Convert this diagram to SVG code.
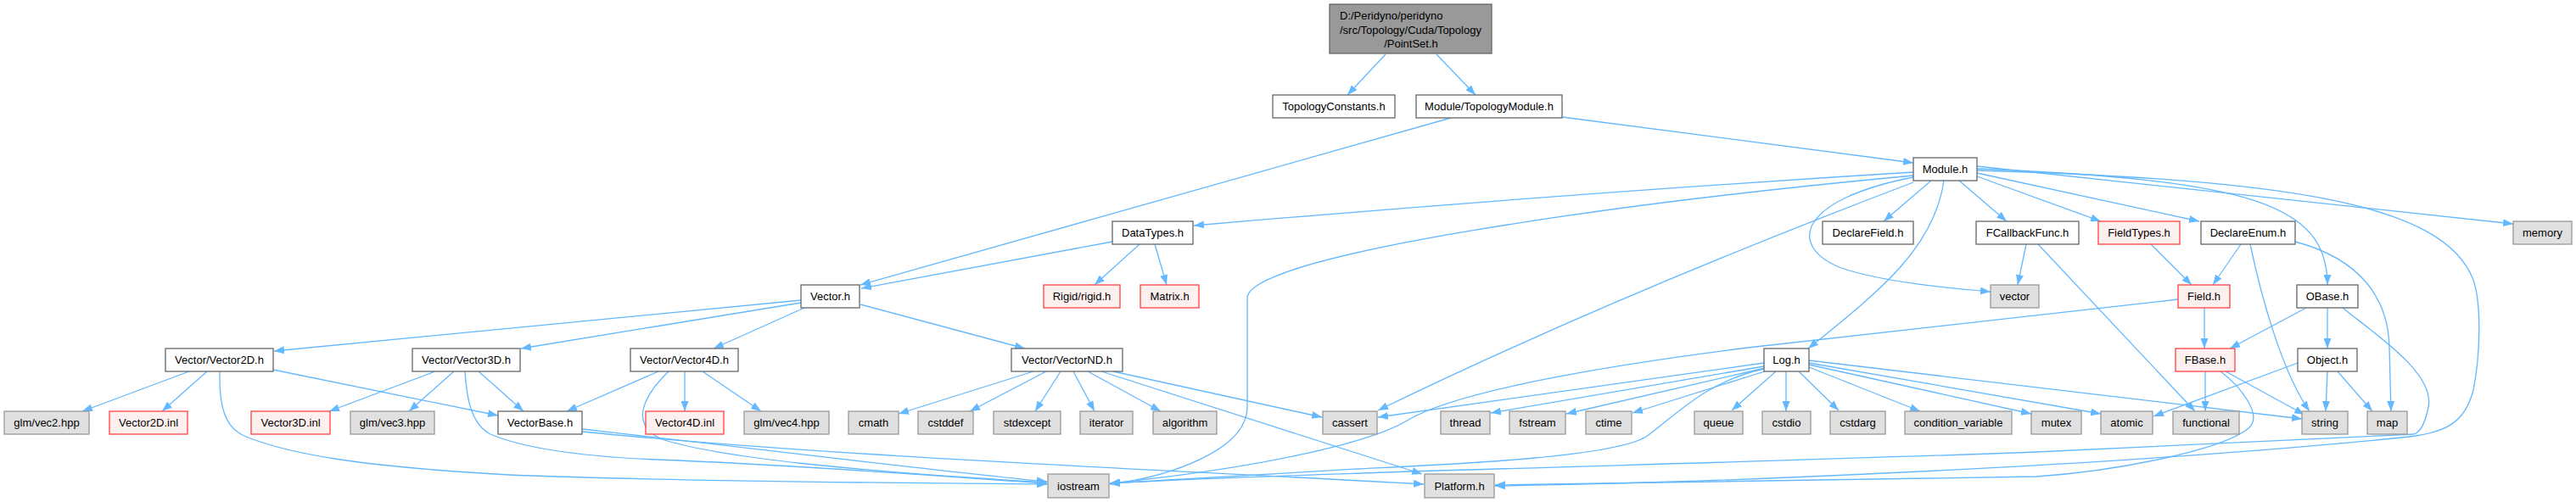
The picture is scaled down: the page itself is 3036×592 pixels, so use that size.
<svg xmlns="http://www.w3.org/2000/svg" width="3036" height="592" viewBox="0 0 3036 592">
<style>
.e{fill:none;stroke:#63B8FF;stroke-width:1.3}
rect{stroke-width:1.3}
.w rect{fill:#ffffff;stroke:#666666}
.g rect{fill:#E0E0E0;stroke:#999999}
.r rect{fill:#FFF0F0;stroke:#FF4040}
.root rect{fill:#999999;stroke:#666666}
text{font-family:"Liberation Sans",Arial,sans-serif;font-size:13px;fill:#000000;text-anchor:middle}
</style>
<defs>
<marker id="a" markerUnits="userSpaceOnUse" markerWidth="12" markerHeight="9" refX="12" refY="4.5" orient="auto">
<path d="M0,0 L12,4.5 L0,9 z" fill="#63B8FF"/>
</marker>
</defs>
<rect width="3036" height="592" fill="#ffffff"/>
<g id="edges" marker-end="url(#a)">
<path class="e" marker-end="url(#a)" d="M1633,64 L1588,112"/>
<path class="e" marker-end="url(#a)" d="M1693,64 L1739,112"/>
<path class="e" marker-end="url(#a)" d="M1710,139 L1014,336"/>
<path class="e" marker-end="url(#a)" d="M1841,138 L2255,192"/>
<path class="e" marker-end="url(#a)" d="M2255,203 Q1850,228 1407,266"/>
<path class="e" marker-end="url(#a)" d="M2255,207 C1900,240 1480,300 1470,350 L1470,480 C1470,530 1380,562 1308,571"/>
<path class="e" marker-end="url(#a)" d="M2255,215 Q1900,350 1624,484"/>
<path class="e" marker-end="url(#a)" d="M2276,213 L2220,261"/>
<path class="e" marker-end="url(#a)" d="M2255,209 C2120,235 2105,290 2170,316 C2220,333 2300,340 2346,344"/>
<path class="e" marker-end="url(#a)" d="M2291,213 C2280,290 2220,340 2131,411"/>
<path class="e" marker-end="url(#a)" d="M2309,213 L2365,261"/>
<path class="e" marker-end="url(#a)" d="M2330,208 L2476,261"/>
<path class="e" marker-end="url(#a)" d="M2330,204 L2592,261"/>
<path class="e" marker-end="url(#a)" d="M2330,199 C2650,212 2743,240 2743,336"/>
<path class="e" marker-end="url(#a)" d="M2330,196 L2962,264"/>
<path class="e" marker-end="url(#a)" d="M2330,201 C2700,212 2880,240 2915,330 C2925,360 2923,420 2915,460 C2905,500 2880,510 2840,515 C2500,550 2000,570 1762,573"/>
<path class="e" marker-end="url(#a)" d="M1311,285 L1015,340"/>
<path class="e" marker-end="url(#a)" d="M1343,288 L1290,336"/>
<path class="e" marker-end="url(#a)" d="M1361,288 L1375,336"/>
<path class="e" marker-end="url(#a)" d="M944,354 L323,414"/>
<path class="e" marker-end="url(#a)" d="M944,357 L614,411"/>
<path class="e" marker-end="url(#a)" d="M948,363 L841,411"/>
<path class="e" marker-end="url(#a)" d="M1014,359 L1208,411"/>
<path class="e" marker-end="url(#a)" d="M223,438 L97,485"/>
<path class="e" marker-end="url(#a)" d="M244,438 L191,485"/>
<path class="e" marker-end="url(#a)" d="M322,436 L587,490"/>
<path class="e" marker-end="url(#a)" d="M259,438 C258,480 265,505 290,515 C340,535 420,550 600,560 C800,568 1100,570 1234,571"/>
<path class="e" marker-end="url(#a)" d="M513,438 L388,485"/>
<path class="e" marker-end="url(#a)" d="M535,438 L482,485"/>
<path class="e" marker-end="url(#a)" d="M564,438 L617,485"/>
<path class="e" marker-end="url(#a)" d="M548,438 C550,470 555,500 578,512 C620,530 700,540 800,543 C1000,552 1150,565 1234,570"/>
<path class="e" marker-end="url(#a)" d="M776,438 L668,485"/>
<path class="e" marker-end="url(#a)" d="M788,438 C760,465 740,500 780,518 C850,540 1000,555 1234,569"/>
<path class="e" marker-end="url(#a)" d="M807,438 L807,485"/>
<path class="e" marker-end="url(#a)" d="M828,438 L897,485"/>
<path class="e" marker-end="url(#a)" d="M686,506 C900,530 1100,555 1234,568"/>
<path class="e" marker-end="url(#a)" d="M686,509 C1000,540 1400,555 1678,571"/>
<path class="e" marker-end="url(#a)" d="M1218,438 L1059,488"/>
<path class="e" marker-end="url(#a)" d="M1233,438 L1143,485"/>
<path class="e" marker-end="url(#a)" d="M1250,438 L1220,485"/>
<path class="e" marker-end="url(#a)" d="M1265,438 L1290,485"/>
<path class="e" marker-end="url(#a)" d="M1282,438 L1368,485"/>
<path class="e" marker-end="url(#a)" d="M1312,438 L1558,492"/>
<path class="e" marker-end="url(#a)" d="M1298,438 L1676,559"/>
<path class="e" marker-end="url(#a)" d="M2079,428 L1624,492"/>
<path class="e" marker-end="url(#a)" d="M2079,432 L1757,487"/>
<path class="e" marker-end="url(#a)" d="M2080,434 L1846,488"/>
<path class="e" marker-end="url(#a)" d="M2083,437 L1924,487"/>
<path class="e" marker-end="url(#a)" d="M2093,438 L2041,484"/>
<path class="e" marker-end="url(#a)" d="M2105,438 L2105,485"/>
<path class="e" marker-end="url(#a)" d="M2120,438 L2167,484"/>
<path class="e" marker-end="url(#a)" d="M2132,433 L2263,485"/>
<path class="e" marker-end="url(#a)" d="M2132,430 L2394,488"/>
<path class="e" marker-end="url(#a)" d="M2132,428 L2476,488"/>
<path class="e" marker-end="url(#a)" d="M2132,425 L2713,494"/>
<path class="e" marker-end="url(#a)" d="M2079,435 C2010,450 1975,490 1940,515 C1900,540 1700,548 1600,553 C1500,558 1400,565 1308,570"/>
<path class="e" marker-end="url(#a)" d="M2567,353 L2060,410 C1900,430 1720,460 1660,495 C1620,520 1500,550 1308,570"/>
<path class="e" marker-end="url(#a)" d="M2761,363 C2800,395 2870,440 2862,480 C2858,500 2852,510 2845,512 L2400,533 C2000,548 1600,555 1308,570"/>
<path class="e" marker-end="url(#a)" d="M2617,438 C2640,455 2668,490 2650,505 C2620,530 2500,555 2400,562 L1762,572"/>
<path class="e" marker-end="url(#a)" d="M2599,438 L2599,485"/>
<path class="e" marker-end="url(#a)" d="M2623,438 L2716,489"/>
<path class="e" marker-end="url(#a)" d="M2718,363 L2628,411"/>
<path class="e" marker-end="url(#a)" d="M2743,363 L2743,411"/>
<path class="e" marker-end="url(#a)" d="M2598,363 L2598,411"/>
<path class="e" marker-end="url(#a)" d="M2708,428 L2538,491"/>
<path class="e" marker-end="url(#a)" d="M2743,438 L2741,485"/>
<path class="e" marker-end="url(#a)" d="M2755,438 L2796,485"/>
<path class="e" marker-end="url(#a)" d="M2388,288 L2378,336"/>
<path class="e" marker-end="url(#a)" d="M2402,288 L2587,485"/>
<path class="e" marker-end="url(#a)" d="M2641,288 L2608,336"/>
<path class="e" marker-end="url(#a)" d="M2535,288 L2583,336"/>
<path class="e" marker-end="url(#a)" d="M2652,288 C2665,350 2690,440 2722,485"/>
<path class="e" marker-end="url(#a)" d="M2705,285 C2780,305 2815,350 2816,410 L2818,485"/>
</g>
<g id="n_pointset" class="root"><rect x="1567" y="5" width="191" height="58"/><text x="1579" y="23" style="text-anchor:start">D:/Peridyno/peridyno</text><text x="1579" y="39.5" style="text-anchor:start">/src/Topology/Cuda/Topology</text><text x="1663" y="56">/PointSet.h</text></g>
<g id="n_topoconst" class="w"><rect x="1500" y="112" width="144" height="27"/><text x="1572" y="130">TopologyConstants.h</text></g>
<g id="n_topomod" class="w"><rect x="1669" y="112" width="172" height="27"/><text x="1755" y="130">Module/TopologyModule.h</text></g>
<g id="n_module" class="w"><rect x="2255" y="186" width="75" height="27"/><text x="2292.5" y="204">Module.h</text></g>
<g id="n_datatypes" class="w"><rect x="1311" y="261" width="95" height="27"/><text x="1358.5" y="279">DataTypes.h</text></g>
<g id="n_declarefield" class="w"><rect x="2148" y="261" width="107" height="27"/><text x="2201.5" y="279">DeclareField.h</text></g>
<g id="n_fcallback" class="w"><rect x="2329" y="261" width="121" height="27"/><text x="2389.5" y="279">FCallbackFunc.h</text></g>
<g id="n_fieldtypes" class="r"><rect x="2473" y="261" width="96" height="27"/><text x="2521" y="279">FieldTypes.h</text></g>
<g id="n_declareenum" class="w"><rect x="2594" y="261" width="111" height="27"/><text x="2649.5" y="279">DeclareEnum.h</text></g>
<g id="n_memory" class="g"><rect x="2962" y="261" width="69" height="27"/><text x="2996.5" y="279">memory</text></g>
<g id="n_vectorh" class="w"><rect x="944" y="336" width="69" height="27"/><text x="978.5" y="354">Vector.h</text></g>
<g id="n_rigid" class="r"><rect x="1230" y="336" width="90" height="27"/><text x="1275" y="354">Rigid/rigid.h</text></g>
<g id="n_matrix" class="r"><rect x="1344" y="336" width="69" height="27"/><text x="1378.5" y="354">Matrix.h</text></g>
<g id="n_vector" class="g"><rect x="2346" y="336" width="57" height="27"/><text x="2374.5" y="354">vector</text></g>
<g id="n_field" class="r"><rect x="2567" y="336" width="61" height="27"/><text x="2597.5" y="354">Field.h</text></g>
<g id="n_obase" class="w"><rect x="2707" y="336" width="72" height="27"/><text x="2743" y="354">OBase.h</text></g>
<g id="n_vec2d" class="w"><rect x="195" y="411" width="127" height="27"/><text x="258.5" y="429">Vector/Vector2D.h</text></g>
<g id="n_vec3d" class="w"><rect x="486" y="411" width="127" height="27"/><text x="549.5" y="429">Vector/Vector3D.h</text></g>
<g id="n_vec4d" class="w"><rect x="743" y="411" width="127" height="27"/><text x="806.5" y="429">Vector/Vector4D.h</text></g>
<g id="n_vecnd" class="w"><rect x="1192" y="411" width="131" height="27"/><text x="1257.5" y="429">Vector/VectorND.h</text></g>
<g id="n_log" class="w"><rect x="2079" y="411" width="53" height="27"/><text x="2105.5" y="429">Log.h</text></g>
<g id="n_fbase" class="r"><rect x="2564" y="411" width="70" height="27"/><text x="2599" y="429">FBase.h</text></g>
<g id="n_object" class="w"><rect x="2708" y="411" width="70" height="27"/><text x="2743" y="429">Object.h</text></g>
<g id="n_glmvec2" class="g"><rect x="5" y="485" width="100" height="27"/><text x="55" y="503">glm/vec2.hpp</text></g>
<g id="n_vec2dinl" class="r"><rect x="129" y="485" width="92" height="27"/><text x="175" y="503">Vector2D.inl</text></g>
<g id="n_vec3dinl" class="r"><rect x="296" y="485" width="93" height="27"/><text x="342.5" y="503">Vector3D.inl</text></g>
<g id="n_glmvec3" class="g"><rect x="413" y="485" width="99" height="27"/><text x="462.5" y="503">glm/vec3.hpp</text></g>
<g id="n_vectorbase" class="w"><rect x="587" y="485" width="99" height="27"/><text x="636.5" y="503">VectorBase.h</text></g>
<g id="n_vec4dinl" class="r"><rect x="761" y="485" width="92" height="27"/><text x="807" y="503">Vector4D.inl</text></g>
<g id="n_glmvec4" class="g"><rect x="877" y="485" width="100" height="27"/><text x="927" y="503">glm/vec4.hpp</text></g>
<g id="n_cmath" class="g"><rect x="1000" y="485" width="59" height="27"/><text x="1029.5" y="503">cmath</text></g>
<g id="n_cstddef" class="g"><rect x="1082" y="485" width="65" height="27"/><text x="1114.5" y="503">cstddef</text></g>
<g id="n_stdexcept" class="g"><rect x="1171" y="485" width="79" height="27"/><text x="1210.5" y="503">stdexcept</text></g>
<g id="n_iterator" class="g"><rect x="1273" y="485" width="62" height="27"/><text x="1304" y="503">iterator</text></g>
<g id="n_algorithm" class="g"><rect x="1359" y="485" width="75" height="27"/><text x="1396.5" y="503">algorithm</text></g>
<g id="n_cassert" class="g"><rect x="1559" y="485" width="64" height="27"/><text x="1591" y="503">cassert</text></g>
<g id="n_thread" class="g"><rect x="1698" y="485" width="58" height="27"/><text x="1727" y="503">thread</text></g>
<g id="n_fstream" class="g"><rect x="1779" y="485" width="66" height="27"/><text x="1812" y="503">fstream</text></g>
<g id="n_ctime" class="g"><rect x="1869" y="485" width="54" height="27"/><text x="1896" y="503">ctime</text></g>
<g id="n_queue" class="g"><rect x="1997" y="485" width="57" height="27"/><text x="2025.5" y="503">queue</text></g>
<g id="n_cstdio" class="g"><rect x="2077" y="485" width="57" height="27"/><text x="2105.5" y="503">cstdio</text></g>
<g id="n_cstdarg" class="g"><rect x="2157" y="485" width="65" height="27"/><text x="2189.5" y="503">cstdarg</text></g>
<g id="n_condvar" class="g"><rect x="2245" y="485" width="126" height="27"/><text x="2308" y="503">condition_variable</text></g>
<g id="n_mutex" class="g"><rect x="2394" y="485" width="59" height="27"/><text x="2423.5" y="503">mutex</text></g>
<g id="n_atomic" class="g"><rect x="2476" y="485" width="61" height="27"/><text x="2506.5" y="503">atomic</text></g>
<g id="n_functional" class="g"><rect x="2561" y="485" width="78" height="27"/><text x="2600" y="503">functional</text></g>
<g id="n_string" class="g"><rect x="2713" y="485" width="54" height="27"/><text x="2740" y="503">string</text></g>
<g id="n_map" class="g"><rect x="2790" y="485" width="47" height="27"/><text x="2813.5" y="503">map</text></g>
<g id="n_iostream" class="g"><rect x="1235" y="559" width="72" height="28"/><text x="1271" y="577.5">iostream</text></g>
<g id="n_platform" class="g"><rect x="1679" y="559" width="82" height="28"/><text x="1720" y="577.5">Platform.h</text></g>
</svg>
